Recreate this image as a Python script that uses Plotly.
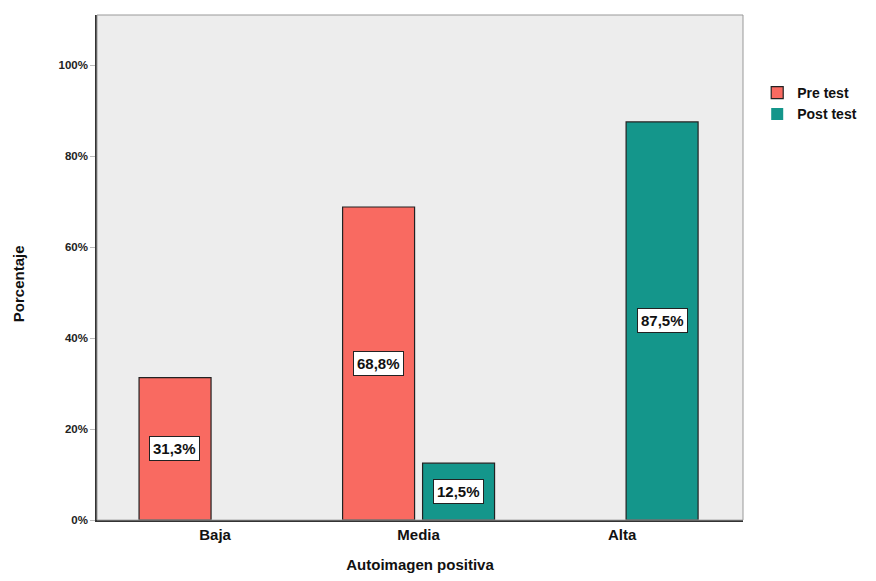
import plotly.graph_objects as go

categories = ["Baja", "Media", "Alta"]
pre_test = [31.3, 68.8, 0]
post_test = [0, 12.5, 87.5]
series_names = ["Pre test", "Post test"]
tick_vals = [0, 20, 40, 60, 80, 100]

colors = ["#F96A61", "#14968B"]
FONT = "Liberation Sans, Arial, sans-serif"

fig = go.Figure()
for name, vals, col in zip(series_names, [pre_test, post_test], colors):
    fig.add_trace(go.Bar(
        x=categories, y=vals, name="<b>%s</b>" % name,
        marker=dict(color=col,
                    line=dict(color="#222222",
                              width=[1.2 if v > 0 else 0 for v in vals])),
    ))

# labels in white boxes at mid-height of each non-zero bar
offs = [-0.197, 0.197]
for si, vals in enumerate([pre_test, post_test]):
    for ci, v in enumerate(vals):
        if v > 0:
            fig.add_annotation(
                x=ci + offs[si], y=v / 2, xref="x", yref="y",
                text="<b>" + f"{v:.1f}".replace(".", ",") + "%</b>",
                showarrow=False, bgcolor="white", bordercolor="#222222",
                borderwidth=1, borderpad=3,
                font=dict(family=FONT, size=15, color="#111111"),
            )

# y-axis title (placed slightly below the plot centre, as in the reference)
fig.add_annotation(
    x=0, y=0.467, xref="paper", yref="paper", xanchor="center", yanchor="middle",
    xshift=-79, textangle=-90, showarrow=False,
    text="<b>Porcentaje</b>", font=dict(family=FONT, size=15, color="#111111"),
)

# page body has an 8px margin, so the figure is offset by 8px
fig.update_layout(
    width=868, height=573,
    margin=dict(l=89, r=133, t=7, b=61, autoexpand=False),
    paper_bgcolor="white", plot_bgcolor="#EDEDED",
    barmode="group", bargap=0.214, bargroupgap=0.1,
    font=dict(family=FONT, color="#111111"),
    showlegend=True,
    legend=dict(x=1.022, y=0.877, xanchor="left", yanchor="top",
                font=dict(family=FONT, size=14, color="#111111"),
                tracegroupgap=0, itemwidth=30),
)
fig.update_xaxes(
    range=[-0.58, 2.594], showgrid=False, automargin=False,
    showline=True, linecolor="#333333", linewidth=1.5,
    tickfont=dict(family=FONT, size=15, color="#111111"),
    ticks="", title=dict(text="<b>Autoimagen positiva</b>",
                         font=dict(family=FONT, size=15, color="#111111"),
                         standoff=18),
)
fig.update_xaxes(ticktext=["<b>%s</b>" % c for c in categories], tickvals=categories)
fig.update_yaxes(
    range=[0, 111], tickvals=tick_vals, automargin=False,
    ticktext=["<b>%d%%</b>" % t for t in tick_vals],
    showgrid=False, showline=True, linecolor="#333333", linewidth=1.5,
    ticks="outside", ticklen=5, tickcolor="#bbbbbb",
    tickfont=dict(family=FONT, size=11.5, color="#222222"),
)
fig.add_shape(type="rect", xref="paper", yref="paper", x0=0, y0=0, x1=1, y1=1,
              line=dict(color="#999999", width=1))

fig.write_html("out.html")
